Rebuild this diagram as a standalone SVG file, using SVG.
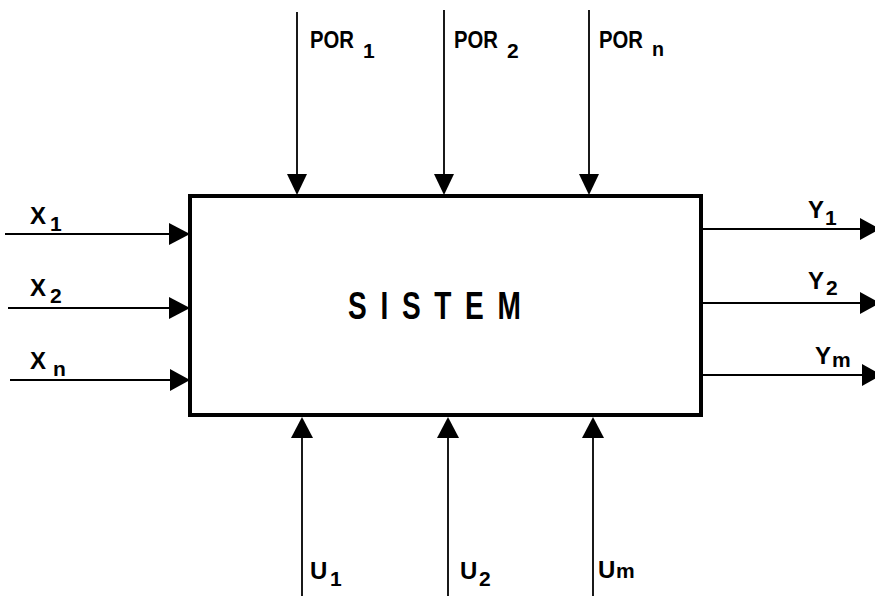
<svg xmlns="http://www.w3.org/2000/svg" width="875" height="596" viewBox="0 0 875 596">
<style>
.bg{fill:#fff}
.box{fill:#fff;stroke:#000;stroke-width:4}
.ln{stroke:#000;stroke-width:1.8;fill:none}
.ah{fill:#000}
.lbl{font-family:"Liberation Sans",Arial,sans-serif;font-size:24px;font-weight:bold;fill:#000}
.sub{font-family:"Liberation Sans",Arial,sans-serif;font-size:21px;font-weight:bold;fill:#000}
.title{font-family:"Liberation Sans",Arial,sans-serif;font-size:39px;font-weight:bold;fill:#000;letter-spacing:19px}
</style>
<rect class="bg" x="0" y="0" width="875" height="596"/>
<g id="sistem">
<rect class="box" x="190" y="196" width="511" height="219"/>
<text class="title" transform="translate(348,319) scale(0.72,1)">SISTEM</text>
</g>
<g id="connectors">
<line class="ln" x1="297" y1="12" x2="297" y2="180"/>
<polygon class="ah" points="287,174 307,174 297,195"/>
<line class="ln" x1="444" y1="10" x2="444" y2="180"/>
<polygon class="ah" points="434,174 454,174 444,195"/>
<line class="ln" x1="589" y1="10" x2="589" y2="180"/>
<polygon class="ah" points="579,174 599,174 589,195"/>
<line class="ln" x1="5" y1="234" x2="175" y2="234"/>
<polygon class="ah" points="169,223 169,245 190,234"/>
<line class="ln" x1="8" y1="308" x2="175" y2="308"/>
<polygon class="ah" points="169,297 169,319 190,308"/>
<line class="ln" x1="10" y1="380" x2="175" y2="380"/>
<polygon class="ah" points="170,369 170,391 190,380"/>
<line class="ln" x1="703" y1="229" x2="865" y2="229"/>
<polygon class="ah" points="860,218 860,240 880,229"/>
<line class="ln" x1="703" y1="303" x2="865" y2="303"/>
<polygon class="ah" points="860,292 860,314 880,303"/>
<line class="ln" x1="703" y1="375" x2="865" y2="375"/>
<polygon class="ah" points="862,364 862,386 882,375"/>
<line class="ln" x1="302" y1="430" x2="302" y2="596"/>
<polygon class="ah" points="291,438 313,438 302,417"/>
<line class="ln" x1="448" y1="430" x2="448" y2="596"/>
<polygon class="ah" points="437,438 459,438 448,417"/>
<line class="ln" x1="593" y1="430" x2="593" y2="596"/>
<polygon class="ah" points="582,438 604,438 593,417"/>
</g>
<g id="label-por1"><text class="lbl" x="310" y="48" textLength="44" lengthAdjust="spacingAndGlyphs">POR</text><text class="sub" x="363" y="58">1</text></g>
<g id="label-por2"><text class="lbl" x="454" y="48" textLength="44" lengthAdjust="spacingAndGlyphs">POR</text><text class="sub" x="507" y="58">2</text></g>
<g id="label-porn"><text class="lbl" x="599" y="48" textLength="44" lengthAdjust="spacingAndGlyphs">POR</text><text class="sub" x="652" y="56" textLength="12" lengthAdjust="spacingAndGlyphs">n</text></g>
<g id="label-x1"><text class="lbl" x="30" y="224">X</text><text class="sub" x="50" y="231">1</text></g>
<g id="label-x2"><text class="lbl" x="30" y="296">X</text><text class="sub" x="50" y="303">2</text></g>
<g id="label-xn"><text class="lbl" x="30" y="369">X</text><text class="sub" x="53" y="376">n</text></g>
<g id="label-y1"><text class="lbl" x="808" y="218">Y</text><text class="sub" x="825" y="225">1</text></g>
<g id="label-y2"><text class="lbl" x="808" y="289">Y</text><text class="sub" x="826" y="295">2</text></g>
<g id="label-ym"><text class="lbl" x="815" y="364">Y</text><text class="sub" x="832" y="367">m</text></g>
<g id="label-u1"><text class="lbl" x="310" y="579">U</text><text class="sub" x="330" y="586">1</text></g>
<g id="label-u2"><text class="lbl" x="460" y="579">U</text><text class="sub" x="479" y="586">2</text></g>
<g id="label-um"><text class="lbl" x="598" y="578">U</text><text class="sub" x="616" y="578">m</text></g>
</svg>
